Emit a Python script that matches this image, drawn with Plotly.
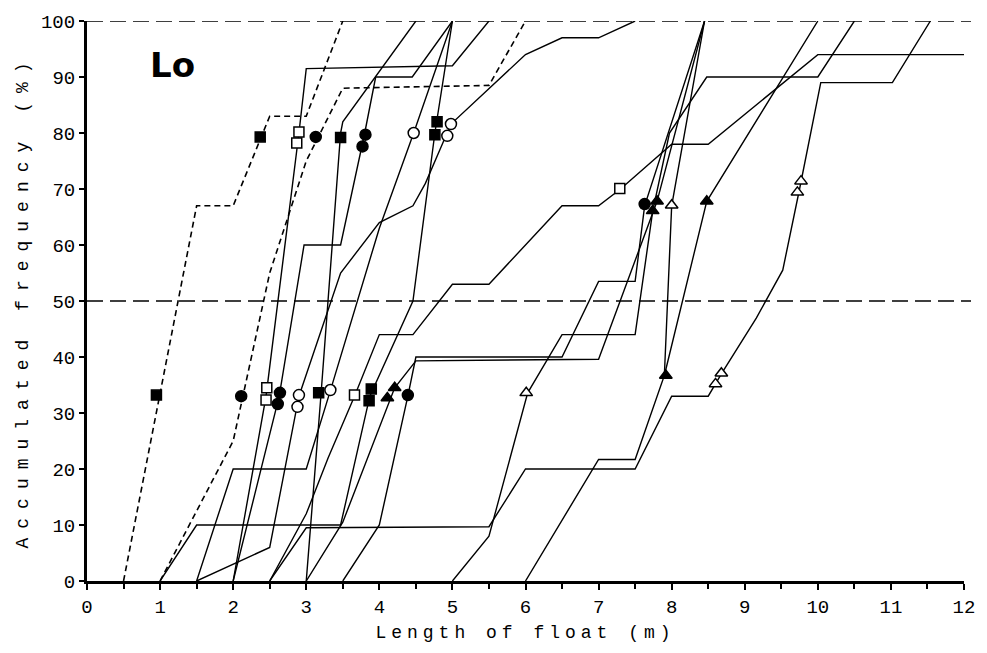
import plotly.graph_objects as go

# ---------------- data ----------------
x_ticks = list(range(0, 13))
y_ticks = list(range(0, 101, 10))

# dashed curves
d1_x = [0.5, 1.5, 2.0, 2.5, 3.0, 3.5]
d1_y = [0, 67, 67, 83, 83, 100]
d2_x = [1.0, 2.0, 2.5, 3.0, 3.5, 5.5, 6.0]
d2_y = [0, 25, 55, 75, 88, 88.5, 100]

# solid curves
s1_x = [2.0, 2.45, 2.9, 3.0, 5.0, 5.5]
s1_y = [0, 33, 80, 91.5, 92, 100]
s2_x = [3.0, 3.2, 3.47, 3.5, 4.5]
s2_y = [0, 33, 80, 82, 100]
s3_x = [2.0, 2.63, 2.97, 3.47, 3.8, 3.95, 4.45, 5.0]
s3_y = [0, 33, 60, 60, 80, 90, 90, 100]
s4_x = [1.5, 2.0, 3.0, 3.33, 4.0, 4.47, 5.0]
s4_y = [0, 20, 20, 34, 63, 80, 100]
s5_x = [1.5, 2.5, 2.9, 3.47, 4.0, 4.46, 4.63, 4.98, 6.0, 6.5, 7.0, 7.5]
s5_y = [0, 6, 33, 55, 64, 67, 71, 81.6, 94, 97, 97, 100]
s6_x = [1.0, 1.5, 3.47, 3.87, 4.46, 4.67, 4.76, 5.0]
s6_y = [0, 10, 10, 33, 50, 71, 80, 100]
s7_x = [2.5, 3.0, 3.3, 3.66, 4.0, 4.46, 5.0, 5.5, 6.5, 7.0, 7.3, 8.0, 8.5, 10.0, 12.0]
s7_y = [0, 12, 22, 33, 44, 44, 53, 53, 67, 67, 70, 78, 78, 94, 94]
s8_x = [2.5, 3.0, 5.5, 6.0, 7.5, 8.0, 8.5, 8.68, 9.16, 9.52, 9.75, 10.04, 11.02, 11.54]
s8_y = [0, 9.5, 9.7, 20, 20, 33, 33, 37, 47, 55.5, 70, 89, 89, 100]
s9_x = [3.5, 4.0, 4.39, 4.5, 6.5, 7.0, 7.5, 7.63, 8.45]
s9_y = [0, 10, 33, 40, 40, 53.5, 53.5, 67, 100]
s10_x = [3.0, 3.5, 4.21, 4.5, 7.0, 7.8, 8.45]
s10_y = [0, 10.5, 34.5, 39.3, 39.6, 67.8, 100]
s11_x = [5.0, 5.5, 6.03, 6.5, 7.5, 7.74, 7.97, 8.48, 10.0, 10.5]
s11_y = [0, 8, 33.6, 44, 44, 66, 80, 90, 90, 100]
s12_x = [6.0, 7.0, 7.5, 7.9, 8.0, 8.45]
s12_y = [0, 21.7, 21.7, 36.7, 67, 100]
s13_x = [7.9, 8.48, 10.0]
s13_y = [36.7, 67.8, 100]

# markers
fsq_x = [0.95, 2.37, 3.17, 3.47, 3.86, 3.89, 4.76, 4.79]
fsq_y = [33.2, 79.3, 33.6, 79.2, 32.2, 34.3, 79.7, 82.0]
osq_x = [2.45, 2.46, 2.87, 2.90, 3.66, 7.29]
osq_y = [32.3, 34.5, 78.2, 80.2, 33.2, 70.1]
fci_x = [2.11, 2.61, 2.64, 3.13, 3.77, 3.81, 4.39, 7.63]
fci_y = [33.0, 31.6, 33.6, 79.3, 77.6, 79.7, 33.2, 67.3]
oci_x = [2.88, 2.90, 3.33, 4.47, 4.93, 4.98]
oci_y = [31.1, 33.2, 34.1, 80.0, 79.5, 81.6]
ftr_x = [4.11, 4.21, 7.74, 7.80, 7.92, 8.48]
ftr_y = [32.7, 34.5, 66.1, 67.8, 36.7, 67.8]
otr_x = [6.01, 8.00, 8.60, 8.68, 9.72, 9.77]
otr_y = [33.6, 67.1, 35.2, 37.1, 69.4, 71.4]

# ---------------- figure ----------------
fig = go.Figure()

for xs, ys in [(d1_x, d1_y), (d2_x, d2_y)]:
    fig.add_trace(go.Scatter(x=xs, y=ys, mode="lines",
                             line=dict(color="black", width=1.6, dash="6px,4px"),
                             hoverinfo="skip", showlegend=False))

solids = [(s1_x, s1_y), (s2_x, s2_y), (s3_x, s3_y), (s4_x, s4_y), (s5_x, s5_y),
          (s6_x, s6_y), (s7_x, s7_y), (s8_x, s8_y), (s9_x, s9_y), (s10_x, s10_y),
          (s11_x, s11_y), (s12_x, s12_y), (s13_x, s13_y)]
for xs, ys in solids:
    fig.add_trace(go.Scatter(x=xs, y=ys, mode="lines",
                             line=dict(color="black", width=1.4),
                             hoverinfo="skip", showlegend=False))

marker_sets = [
    (fsq_x, fsq_y, "square", "black", 10),
    (osq_x, osq_y, "square", "white", 10),
    (fci_x, fci_y, "circle", "black", 11),
    (oci_x, oci_y, "circle", "white", 11),
    (ftr_x, ftr_y, "triangle-up", "black", 11),
    (otr_x, otr_y, "triangle-up", "white", 11),
]
for xs, ys, sym, fill, sz in marker_sets:
    fig.add_trace(go.Scatter(x=xs, y=ys, mode="markers",
                             marker=dict(symbol=sym, color=fill, size=sz,
                                         line=dict(color="black", width=1.5)),
                             hoverinfo="skip", showlegend=False))

# dashed reference lines at 50 % and 100 %
for yv in (50, 100):
    fig.add_shape(type="line", xref="paper", yref="y", x0=0, x1=1.008, y0=yv, y1=yv,
                  line=dict(color="black", width=1.3, dash="16px,7px"))

mono = "Liberation Mono, Courier New, monospace"

fig.add_annotation(text="<b>Lo</b>", xref="paper", yref="paper", x=0.07, y=0.922,
                   xanchor="left", yanchor="middle", showarrow=False,
                   font=dict(family="DejaVu Sans, Arial", size=34, color="black"))

fig.update_layout(
    width=987, height=653,
    margin=dict(l=87, r=18, t=15, b=72),
    paper_bgcolor="white", plot_bgcolor="white",
    font=dict(family=mono, color="black"),
    xaxis=dict(range=[0, 12], tickvals=x_ticks, ticktext=[str(v) for v in x_ticks],
               showgrid=False, zeroline=False, showline=True, linecolor="black", linewidth=3,
               ticks="outside", ticklen=6, tickwidth=2, tickcolor="black",
               minor=dict(dtick=0.5, ticks="outside", ticklen=5, tickwidth=1.5, tickcolor="black"),
               tickfont=dict(family=mono, size=19),
               title=dict(text='<span style="letter-spacing:5px">Length of float (m)</span>',
                          font=dict(family=mono, size=18), standoff=8)),
    yaxis=dict(range=[0, 100], tickvals=y_ticks, ticktext=[str(v) for v in y_ticks],
               showgrid=False, zeroline=False, showline=True, linecolor="black", linewidth=3,
               ticks="outside", ticklen=5, tickwidth=2, tickcolor="black",
               tickfont=dict(family=mono, size=19),
               title=dict(text='<span style="letter-spacing:9px">Accumulated frequency (%)</span>',
                          font=dict(family=mono, size=18), standoff=8)),
)

fig.write_html("out.html")
